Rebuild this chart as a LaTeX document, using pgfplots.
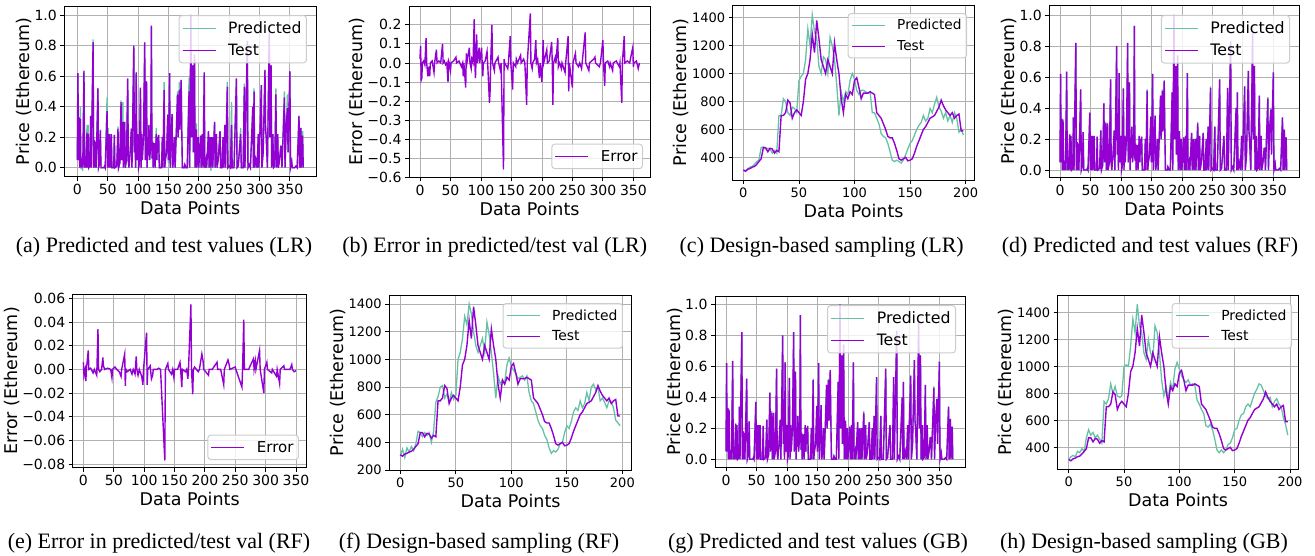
\documentclass[border=0pt]{standalone}
\usepackage{fontspec}
\setmainfont{DejaVu Sans}
\newfontfamily\capfont{Liberation Serif}
\usepackage{pgfplots}
\usepackage{pgfplotstable}
\pgfplotsset{compat=1.18}
\definecolor{pred}{RGB}{102,194,165}
\definecolor{testc}{RGB}{148,0,211}
\definecolor{gridgray}{RGB}{176,176,176}
\definecolor{leggray}{RGB}{204,204,204}

\pgfplotstableread{
x t plr prf pgb
0 0.05 0.06 0.05 0.05
1 0.62 0.61 0.62 0.62
2 0.05 0.05 0.05 0.05
3 0.33 0.30 0.33 0.33
4 0.00 0.01 0.00 0.00
5 0.32 0.40 0.33 0.32
6 0.00 -0.01 0.00 0.00
8 0.06 0.04 0.06 0.06
9 0.00 -0.02 0.00 0.00
11 0.635 0.63 0.635 0.635
12 0.00 0.01 0.00 0.00
13 0.07 0.06 0.07 0.07
14 0.00 0.00 0.00 0.00
16 0.23 0.28 0.23 0.23
17 0.00 0.01 0.00 0.00
18 0.22 0.28 0.22 0.22
19 0.00 0.00 0.00 0.00
21 0.01 0.02 0.01 0.01
22 0.34 0.34 0.34 0.34
23 0.00 0.00 0.00 0.00
24 0.30 0.28 0.30 0.30
26 0.82 0.84 0.82 0.82
27 0.00 0.01 0.00 0.00
28 0.18 0.18 0.18 0.18
29 0.00 0.00 0.00 0.00
30 0.17 0.17 0.17 0.17
31 0.00 0.00 0.00 0.00
34 0.52 0.52 0.52 0.52
35 0.00 0.00 0.00 0.00
37 0.03 0.03 0.03 0.03
38 0.245 0.25 0.245 0.245
39 0.00 0.00 0.00 0.00
44 0.00 0.00 0.00 0.00
45 0.01 0.01 0.01 0.01
46 0.00 0.00 0.00 0.00
49 0.37 0.46 0.37 0.37
50 0.00 0.00 0.00 0.00
51 0.22 0.26 0.22 0.22
52 0.00 0.00 0.00 0.00
53 0.22 0.22 0.22 0.22
54 0.00 0.00 0.00 0.00
56 0.22 0.22 0.22 0.22
57 0.00 0.00 0.00 0.00
60 0.00 0.00 0.00 0.00
61 0.215 0.215 0.215 0.215
62 0.00 0.00 0.00 0.00
65 0.01 0.01 0.01 0.01
67 0.255 0.27 0.255 0.255
68 0.00 0.00 0.00 0.00
70 0.03 0.03 0.03 0.03
72 0.43 0.44 0.43 0.43
73 0.05 0.05 0.05 0.05
75 0.30 0.43 0.31 0.31
76 0.00 0.00 0.00 0.00
78 0.30 0.30 0.30 0.30
79 0.00 0.00 0.00 0.00
81 0.05 0.05 0.05 0.05
83 0.585 0.58 0.585 0.585
84 0.05 0.05 0.05 0.05
85 0.00 0.00 0.00 0.00
87 0.10 0.10 0.10 0.10
89 0.255 0.255 0.255 0.255
90 0.00 0.00 0.00 0.00
91 0.25 0.25 0.25 0.25
93 0.80 0.80 0.80 0.80
94 0.10 0.10 0.10 0.10
95 0.20 0.20 0.20 0.20
96 0.00 0.00 0.00 0.00
97 0.625 0.625 0.625 0.625
98 0.05 0.05 0.05 0.05
100 0.22 0.22 0.22 0.22
101 0.00 0.00 0.00 0.00
102 0.02 0.02 0.02 0.02
104 0.525 0.52 0.53 0.525
105 0.00 0.00 0.00 0.00
106 0.22 0.22 0.22 0.22
107 0.05 0.05 0.05 0.05
109 0.20 0.20 0.20 0.20
111 0.82 0.82 0.82 0.82
112 0.05 0.05 0.05 0.05
114 0.565 0.565 0.565 0.565
115 0.00 0.00 0.00 0.00
116 0.20 0.20 0.20 0.20
117 0.08 0.08 0.08 0.08
118 0.28 0.28 0.28 0.28
119 0.05 0.05 0.05 0.05
121 0.15 0.15 0.15 0.15
122 0.93 0.92 0.93 0.93
123 0.06 0.06 0.06 0.06
124 0.17 0.17 0.17 0.17
125 0.00 0.00 0.00 0.00
126 0.12 0.12 0.12 0.12
127 0.16 0.16 0.16 0.16
128 0.00 0.00 0.00 0.00
130 0.22 0.26 0.22 0.22
131 0.05 0.05 0.05 0.05
132 0.20 0.20 0.20 0.20
133 0.10 0.10 0.10 0.10
134 0.215 0.215 0.215 0.215
135 0.00 0.00 0.00 0.00
138 0.00 0.00 0.00 0.00
139 0.05 0.05 0.05 0.05
140 0.20 0.20 0.20 0.20
141 0.00 0.00 0.00 0.00
143 0.51 0.56 0.52 0.52
144 0.00 0.00 0.00 0.00
145 0.05 0.05 0.05 0.05
147 0.10 0.10 0.10 0.10
149 0.345 0.35 0.345 0.345
150 0.05 0.03 0.05 0.05
152 0.62 0.62 0.62 0.62
153 0.00 0.00 0.00 0.00
156 0.35 0.35 0.35 0.35
157 0.00 0.00 0.00 0.00
158 0.03 0.03 0.03 0.03
160 0.20 0.20 0.20 0.20
161 0.00 0.00 0.00 0.00
163 0.23 0.23 0.23 0.23
165 0.48 0.50 0.48 0.48
166 0.20 0.20 0.20 0.20
168 0.51 0.56 0.52 0.52
169 0.25 0.25 0.25 0.25
171 0.575 0.57 0.58 0.575
172 0.25 0.25 0.25 0.25
173 0.00 0.00 0.00 0.00
176 0.00 0.00 0.00 0.00
177 0.02 0.02 0.02 0.02
179 0.00 0.00 0.00 0.00
181 0.00 0.00 0.00 0.00
184 0.50 0.59 0.50 0.50
185 0.00 0.00 0.00 0.00
187 1.00 1.00 1.00 1.00
188 0.20 0.20 0.20 0.20
190 0.67 0.67 0.67 0.67
191 0.10 0.10 0.10 0.10
193 0.74 0.74 0.74 0.74
194 0.00 0.00 0.00 0.00
196 0.25 0.29 0.25 0.25
197 0.00 0.00 0.00 0.00
199 0.20 0.20 0.20 0.20
200 0.00 0.00 0.00 0.00
203 0.21 0.21 0.21 0.21
204 0.00 0.00 0.00 0.00
206 0.22 0.22 0.22 0.22
207 0.00 0.00 0.00 0.00
209 0.625 0.62 0.625 0.625
210 0.00 0.00 0.00 0.00
212 0.05 0.05 0.05 0.05
213 0.00 0.00 0.00 0.00
216 0.24 0.24 0.24 0.24
217 0.00 0.00 0.00 0.00
219 0.20 0.20 0.20 0.20
220 0.00 -0.02 0.00 0.00
222 0.20 0.20 0.20 0.20
223 0.00 0.00 0.00 0.00
226 0.30 0.30 0.31 0.31
227 0.00 0.00 0.00 0.00
229 0.22 0.22 0.22 0.22
230 0.00 0.00 0.00 0.00
232 0.05 0.05 0.05 0.05
235 0.24 0.24 0.24 0.24
236 0.00 0.00 0.00 0.00
238 0.00 0.00 0.00 0.00
240 0.20 0.20 0.20 0.20
241 0.00 0.00 0.00 0.00
243 0.28 0.28 0.28 0.28
244 0.00 0.00 0.00 0.00
247 0.53 0.56 0.54 0.53
248 0.00 0.00 0.00 0.00
250 0.01 0.01 0.01 0.01
252 0.00 0.00 0.00 0.00
254 0.28 0.43 0.28 0.28
255 0.00 0.00 0.00 0.00
258 0.00 0.00 0.00 0.00
262 0.585 0.58 0.585 0.585
263 0.00 0.00 0.00 0.00
265 0.01 0.01 0.01 0.01
269 0.22 0.26 0.22 0.22
270 0.00 0.00 0.00 0.00
273 0.00 0.00 0.00 0.00
275 0.53 0.55 0.53 0.53
276 0.00 0.00 0.00 0.00
280 0.83 0.83 0.83 0.83
281 0.00 0.00 0.00 0.00
283 0.02 0.02 0.02 0.02
285 0.00 0.00 0.00 0.00
289 0.40 0.40 0.40 0.40
290 0.00 0.00 0.00 0.00
291 0.50 0.52 0.50 0.50
292 0.00 0.00 0.00 0.00
294 0.05 0.05 0.05 0.05
296 0.00 0.00 0.00 0.00
298 0.22 0.22 0.22 0.22
299 0.00 0.00 0.00 0.00
303 0.54 0.54 0.54 0.54
304 0.00 0.00 0.00 0.00
306 0.10 0.10 0.10 0.10
309 0.64 0.64 0.64 0.64
310 0.25 0.25 0.25 0.25
311 0.20 0.20 0.20 0.20
313 0.00 0.00 0.00 0.00
316 0.88 0.88 0.88 0.88
317 0.20 0.20 0.20 0.20
319 0.67 0.67 0.67 0.67
320 0.00 0.00 0.00 0.00
322 0.22 0.22 0.22 0.22
323 0.00 0.00 0.00 0.00
325 0.01 0.01 0.01 0.01
327 0.48 0.52 0.48 0.48
328 0.00 0.00 0.00 0.00
330 0.22 0.22 0.22 0.22
331 0.00 0.00 0.00 0.00
333 0.05 0.05 0.05 0.05
335 0.14 0.14 0.14 0.14
336 0.14 0.14 0.14 0.14
337 0.00 0.00 0.00 0.00
341 0.46 0.50 0.47 0.47
342 0.00 0.00 0.00 0.00
344 0.27 0.27 0.27 0.27
346 0.39 0.48 0.40 0.39
347 0.10 0.10 0.10 0.10
350 0.63 0.63 0.63 0.63
351 0.00 0.00 0.00 0.00
353 0.04 0.04 0.04 0.04
354 0.00 0.00 0.00 0.00
358 0.00 0.00 0.00 0.00
360 0.01 0.01 0.01 0.01
362 0.00 0.00 0.00 0.00
365 0.34 0.34 0.34 0.34
366 0.00 0.00 0.00 0.00
368 0.26 0.26 0.26 0.26
369 0.00 0.00 0.00 0.00
371 0.21 0.24 0.21 0.21
372 0.00 0.00 0.00 0.00
}\spiky

\pgfplotstableread{
x t plr prf pgb
0 310 310 300 310
2 300 305 350 330
4 315 320 290 340
6 320 330 360 330
8 330 335 330 370
10 335 350 370 360
12 350 370 340 390
14 370 380 390 370
16 390 470 480 470
18 470 475 470 530
20 470 460 440 490
22 440 465 470 510
24 465 460 450 470
26 460 430 470 490
28 430 450 400 460
30 450 430 480 430
32 440 700 690 740
34 700 700 730 720
36 700 820 800 760
38 720 800 810 870
40 810 720 720 800
42 790 700 750 850
44 680 760 690 780
46 720 750 760 770
48 740 720 710 780
50 720 950 740 1000
52 700 980 1000 1010
54 800 1000 1050 1000
56 960 1100 1150 1150
58 1000 1320 1310 1350
60 1100 1200 1250 1250
62 1280 1420 1400 1460
64 1150 1300 1330 1300
66 1380 1250 1200 1250
68 1250 1050 1100 1100
70 1100 1000 1050 1050
72 1050 1120 1100 1200
74 1000 1100 1150 1100
76 1100 1000 1050 1050
78 1050 1260 1270 1300
80 1000 1200 1180 1250
82 1220 1100 1050 1100
84 1100 920 900 900
86 1000 700 720 780
88 820 870 880 850
90 720 800 820 760
92 850 870 850 880
94 820 850 830 830
96 870 950 960 980
98 850 1000 1010 1030
100 950 960 950 980
102 970 880 920 930
104 900 850 900 900
106 820 880 860 880
108 860 880 870 900
110 860 870 880 860
112 860 860 850 870
114 870 870 880 860
116 860 720 760 750
118 850 720 700 720
120 720 680 680 680
122 700 640 620 650
124 680 570 560 560
126 640 550 520 550
128 600 540 500 570
130 550 500 450 530
132 540 440 420 460
134 540 380 360 380
136 500 370 320 360
138 450 380 340 380
140 390 370 330 360
142 380 360 350 380
144 390 380 390 420
146 400 420 400 430
148 375 460 470 470
150 380 500 520 530
152 390 520 500 540
154 430 560 550 600
156 480 600 620 640
158 520 630 650 650
160 560 650 630 700
162 600 700 700 720
164 620 660 650 700
166 650 680 680 750
168 680 750 760 800
170 690 720 700 830
172 700 780 800 870
174 730 830 820 860
176 760 760 780 820
178 810 730 800 780
180 770 680 700 760
182 740 720 720 770
184 720 660 690 700
186 700 700 650 740
188 720 650 700 760
190 680 720 690 720
192 700 680 650 700
194 710 580 560 620
196 590 600 540 570
198 590 560 520 490
}\design

\pgfplotstableread{
x e
0 0.02
1 0.09
2 -0.09
3 -0.08
4 0.0
6 0.01
8 -0.01
10 0.13
11 0.0
13 -0.07
14 -0.02
16 -0.07
17 0.0
20 0.01
23 -0.05
24 0.0
27 0.07
28 0.0
31 0.01
34 0.0
37 0.10
38 0.0
40 0.01
42 -0.01
44 0.0
46 -0.10
47 0.01
48 0.0
50 -0.04
51 0.0
55 0.01
59 0.03
60 0.0
64 0.01
68 -0.02
70 0.0
71 -0.07
72 0.0
75 -0.13
76 0.05
77 0.0
81 0.08
82 0.0
84 -0.03
85 0.02
87 0.0
89 0.23
90 0.0
91 -0.08
92 0.02
93 0.15
94 0.0
97 0.08
98 0.0
101 0.08
102 0.0
103 -0.07
104 0.0
107 0.01
110 0.06
111 0.0
114 -0.21
115 -0.15
116 0.0
118 0.20
119 0.0
122 -0.04
123 0.0
128 0.03
129 0.0
132 -0.04
133 0.0
137 -0.56
138 0.02
139 0.0
144 -0.03
145 0.0
148 0.14
149 0.0
152 -0.14
153 0.0
157 -0.02
158 0.02
160 0.0
165 0.04
166 0.0
170 0.02
172 0.0
175 -0.22
176 0.0
181 0.26
182 0.0
184 -0.03
185 0.0
188 0.02
190 0.12
191 0.0
193 0.02
196 -0.08
197 0.0
200 -0.10
201 0.0
202 0.12
203 0.0
208 0.07
209 0.0
212 0.01
216 0.11
217 0.0
218 -0.22
219 0.0
222 0.03
223 0.0
226 0.13
227 -0.02
229 0.0
232 -0.03
233 0.0
238 -0.05
239 0.0
243 0.14
244 -0.15
245 0.0
250 -0.13
251 0.0
255 0.05
256 0.0
260 -0.02
262 0.0
265 -0.03
266 0.0
271 0.16
272 0.0
277 -0.04
278 0.0
285 0.02
287 0.03
288 0.0
294 -0.02
296 0.0
300 0.12
301 0.0
303 -0.12
304 0.0
308 0.01
311 -0.02
312 0.0
316 -0.04
317 0.0
322 0.01
327 -0.02
328 0.0
331 -0.21
332 0.0
335 0.14
336 0.0
340 0.01
344 0.0
347 0.05
349 0.08
350 -0.02
351 0.0
355 0.01
358 -0.03
360 0.0
}\errlr

\pgfplotstableread{
x e
0 0.006
1 -0.005
3 0.0
4 -0.010
5 0.0
8 0.016
9 0.0
12 0.001
16 -0.003
18 0.0
22 -0.005
24 0.034
25 0.0
27 -0.002
30 0.0
32 0.010
33 0.003
35 0.0
40 0.001
45 0.0
47 -0.007
48 0.0
52 0.002
55 0.0
59 -0.002
62 -0.006
63 0.0
68 0.013
69 -0.014
70 0.0
72 -0.002
77 0.0
80 -0.004
82 0.0
85 -0.004
87 0.011
88 0.0
90 -0.005
92 0.0
96 -0.006
98 -0.013
99 0.0
104 0.031
105 -0.013
106 0.0
110 0.003
112 -0.008
114 -0.005
115 0.0
121 0.0
124 0.001
127 0.0
134 -0.077
135 0.0
139 0.005
140 0.0
145 -0.004
147 0.0
149 -0.007
150 0.0
155 0.0
159 0.006
160 0.0
162 -0.015
163 0.0
168 -0.002
170 0.0
172 -0.008
173 0.0
177 0.055
178 0.0
180 -0.021
181 0.0
183 0.002
189 -0.002
191 0.0
195 0.013
197 0.007
198 0.0
206 -0.005
207 0.0
212 0.0
220 0.006
221 0.0
226 0.0
231 -0.013
232 0.0
238 0.008
240 0.004
241 0.0
250 0.002
251 0.0
261 -0.015
262 0.0
264 0.042
265 0.0
272 0.0
280 0.009
281 0.0
283 0.007
284 0.0
290 0.016
291 0.0
297 -0.020
298 0.0
302 0.006
303 0.0
310 -0.003
311 0.0
318 -0.006
319 0.0
323 -0.012
324 0.0
330 0.003
331 0.0
340 0.0
343 0.004
344 0.0
347 -0.002
350 -0.001
}\errrf

\newcommand{\fs}[1]{\fontsize{#1}{#1}\selectfont}

\pgfplotsset{
  every axis legend/.append style={fill=white, fill opacity=0.8, draw opacity=1,
      text opacity=1, draw=leggray, line width=1pt, rounded corners=3pt,
      inner xsep=3pt, inner ysep=4pt, row sep=5pt, column sep=10pt},
  panel/.style={
    scale only axis,
    grid=major,
    grid style={line width=0.8pt, color=gridgray},
    axis line style={line width=0.8pt},
    tick pos=left,
    tick align=outside,
    major tick length=4pt,
    tick style={line width=0.8pt, black},
    scaled ticks=false,
    xlabel={Data Points},
    label style={font=\fs{17.5}},
    ylabel shift=-4pt,
    legend cell align=left,
  },
  spk/.style={panel,
    ylabel={Price (Ethereum)},
    ticklabel style={font=\fs{14}},
    xtick={0,50,100,150,200,250,300,350},
    xticklabels={0,50,100,150,200,250,300,350},
    ytick={0,0.2,0.4,0.6,0.8,1.0},
    yticklabels={0.0,0.2,0.4,0.6,0.8,1.0},
  },
  dsg/.style={panel,
    ylabel={Price (Ethereum)},
    ticklabel style={font=\fs{13}},
    xtick={0,50,100,150,200},
    xticklabels={0,50,100,150,200},
  },
  predline/.style={color=pred, line width=1.3pt,
    legend image code/.code={\draw[draw=pred, draw opacity=1, line width=1.1pt] (0pt,0pt) -- (33pt,0pt);}},
  testline/.style={color=testc, line width=1.4pt,
    legend image code/.code={\draw[draw=testc, draw opacity=1, line width=1.1pt] (0pt,0pt) -- (33pt,0pt);}},
}

\begin{document}
\begin{tikzpicture}
\useasboundingbox (0,0) rectangle (1315pt,556pt);

% (a)
\begin{axis}[spk, at={(64.3pt,379.3pt)}, anchor=south west,
  width=251.7pt, height=170.7pt,
  xmin=-21.4, xmax=393, ymin=-0.059, ymax=1.059,
  legend style={at={(0.964,0.947)}, anchor=north east, font=\fs{15.6}}]
\addplot[predline] table[x=x,y=plr] {\spiky};
\addlegendentry{Predicted}
\addplot[testline] table[x=x,y=t] {\spiky};
\addlegendentry{Test}
\end{axis}

% (b)
\begin{axis}[panel, at={(409pt,378.7pt)}, anchor=south west,
  width=241pt, height=171.3pt,
  xmin=-18, xmax=377.3, ymin=-0.601, ymax=0.299,
  ylabel={Error (Ethereum)},
  ticklabel style={font=\fs{14}},
  xtick={0,50,100,150,200,250,300,350},
  xticklabels={0,50,100,150,200,250,300,350},
  ytick={-0.6,-0.5,-0.4,-0.3,-0.2,-0.1,0,0.1,0.2},
  yticklabels={−0.6,−0.5,−0.4,−0.3,−0.2,−0.1,0.0,0.1,0.2},
  legend style={at={(0.971,0.048)}, anchor=south east, font=\fs{15}}]
\addplot[testline] table[x=x,y=e] {\errlr};
\addlegendentry{Error}
\end{axis}

% (c)
\begin{axis}[dsg, at={(732.7pt,376pt)}, anchor=south west,
  width=241.6pt, height=175pt,
  xmin=-9.6, xmax=207.8, ymin=238, ymax=1491,
  ytick={400,600,800,1000,1200,1400},
  yticklabels={400,600,800,1000,1200,1400},
  legend style={at={(0.970,0.954)}, anchor=north east, font=\fs{13.7}}]
\addplot[predline] table[x=x,y=plr] {\design};
\addlegendentry{Predicted}
\addplot[testline] table[x=x,y=t] {\design};
\addlegendentry{Test}
\end{axis}

% (d)
\begin{axis}[spk, at={(1049.3pt,378.7pt)}, anchor=south west,
  width=250pt, height=172.3pt,
  xmin=-17.5, xmax=392.6, ymin=-0.047, ymax=1.0645,
  legend style={at={(0.963,0.942)}, anchor=north east, font=\fs{15.8}}]
\addplot[predline] table[x=x,y=prf] {\spiky};
\addlegendentry{Predicted}
\addplot[testline] table[x=x,y=t] {\spiky};
\addlegendentry{Test}
\end{axis}

% (e)
\begin{axis}[panel, at={(72.7pt,88.3pt)}, anchor=south west,
  width=234pt, height=173.7pt,
  xmin=-17.6, xmax=367.6, ymin=-0.0831, ymax=0.0637,
  ylabel={Error (Ethereum)},
  ticklabel style={font=\fs{14}},
  xtick={0,50,100,150,200,250,300,350},
  xticklabels={0,50,100,150,200,250,300,350},
  ytick={-0.08,-0.06,-0.04,-0.02,0,0.02,0.04,0.06},
  yticklabels={−0.08,−0.06,−0.04,−0.02,0.00,0.02,0.04,0.06},
  legend style={at={(0.967,0.044)}, anchor=south east, font=\fs{15}}]
\addplot[testline] table[x=x,y=e] {\errrf};
\addlegendentry{Error}
\end{axis}

% (f)
\begin{axis}[dsg, at={(389.3pt,86pt)}, anchor=south west,
  width=242.4pt, height=175pt,
  xmin=-9.9, xmax=208.4, ymin=200, ymax=1465,
  ytick={200,400,600,800,1000,1200,1400},
  yticklabels={200,400,600,800,1000,1200,1400},
  legend style={at={(0.964,0.954)}, anchor=north east, font=\fs{13.9}}]
\addplot[predline] table[x=x,y=prf] {\design};
\addlegendentry{Predicted}
\addplot[testline] table[x=x,y=t] {\design};
\addlegendentry{Test}
\end{axis}

% (g)
\begin{axis}[spk, at={(715pt,88.7pt)}, anchor=south west,
  width=250pt, height=171.3pt,
  xmin=-18, xmax=392, ymin=-0.052, ymax=1.054,
  legend style={at={(0.964,0.947)}, anchor=north east, font=\fs{15.7}}]
\addplot[predline] table[x=x,y=pgb] {\spiky};
\addlegendentry{Predicted}
\addplot[testline] table[x=x,y=t] {\spiky};
\addlegendentry{Test}
\end{axis}

% (h)
\begin{axis}[dsg, at={(1057.7pt,86.7pt)}, anchor=south west,
  width=240.6pt, height=174.3pt,
  xmin=-9.9, xmax=207.5, ymin=237, ymax=1528,
  ytick={400,600,800,1000,1200,1400},
  yticklabels={400,600,800,1000,1200,1400},
  legend style={at={(0.974,0.954)}, anchor=north east, font=\fs{13.9}}]
\addplot[predline] table[x=x,y=pgb] {\design};
\addlegendentry{Predicted}
\addplot[testline] table[x=x,y=t] {\design};
\addlegendentry{Test}
\end{axis}

% captions
\begin{scope}[every node/.style={font=\capfont\fs{22}, inner sep=0pt}]
\node at (164pt,309pt) {(a) Predicted and test values (LR)};
\node at (494.7pt,309pt) {(b) Error in predicted/test val (LR)};
\node at (821.7pt,309pt) {(c) Design-based sampling (LR)};
\node at (1150pt,309pt) {(d) Predicted and test values (RF)};
\node at (159pt,13pt) {(e) Error in predicted/test val (RF)};
\node at (479pt,13pt) {(f) Design-based sampling (RF)};
\node at (818pt,13pt) {(g) Predicted and test values (GB)};
\node at (1144pt,13pt) {(h) Design-based sampling (GB)};
\end{scope}
\end{tikzpicture}
\end{document}
